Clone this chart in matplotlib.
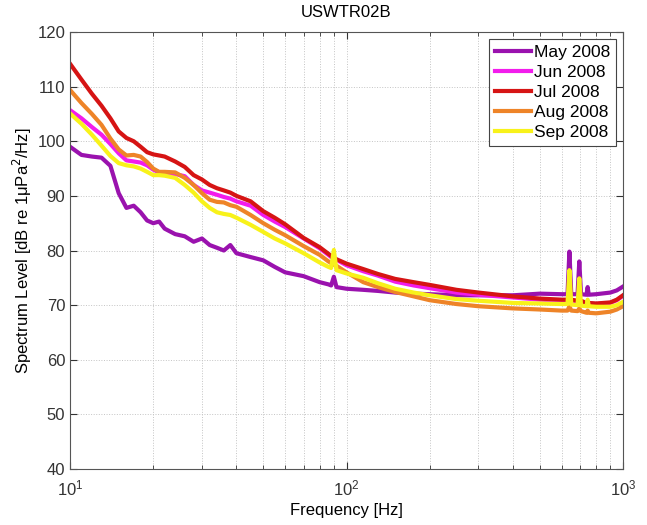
import numpy as np
import matplotlib
matplotlib.use('Agg')
import matplotlib.pyplot as plt

plt.rcParams['font.family'] = ['Liberation Sans', 'DejaVu Sans']

# frequency grid [Hz] shared by all monthly spectra
freq = [10, 11, 12, 13, 14, 15, 16, 17, 18, 19, 20, 21, 22, 24, 26, 28, 30, 32, 34, 36,
        38, 40, 45, 50, 55, 60, 70, 80, 86, 88, 90, 92, 100, 115, 130, 150, 175, 200,
        250, 300, 400, 500, 600, 630, 640, 650, 685, 695, 705, 738, 745, 752, 800, 900,
        950, 1000]

may = [99.0, 97.5, 97.2, 97.0, 95.5, 90.5, 87.8, 88.2, 87.0, 85.5, 85.0, 85.3, 84.0, 83.0,
       82.6, 81.6, 82.2, 81.0, 80.5, 80.0, 81.0, 79.5, 78.8, 78.2, 77.0, 76.0, 75.3, 74.2,
       73.8, 73.6, 75.2, 73.3, 73.0, 72.8, 72.6, 72.3, 72.1, 72.0, 71.8, 71.8, 71.8, 72.1,
       72.0, 72.0, 79.8, 72.0, 72.0, 78.0, 72.0, 71.9, 73.3, 71.9, 72.0, 72.3, 72.7, 73.4]

jun = [105.7, 104.2, 102.6, 101.2, 99.5, 97.8, 96.5, 96.3, 96.1, 95.6, 94.8, 94.3, 94.1, 94.0,
       93.6, 92.0, 91.0, 90.6, 90.2, 89.8, 89.5, 89.0, 88.2, 86.5, 85.3, 84.3, 82.2, 80.4,
       79.2, 78.8, 78.5, 78.3, 77.3, 76.2, 75.4, 74.3, 73.6, 73.1, 72.3, 71.9, 71.4, 71.0,
       70.8, 70.8, 71.0, 70.8, 70.6, 70.8, 70.6, 70.3, 70.4, 70.3, 70.2, 70.4, 70.9, 71.7]

jul = [114.2, 111.3, 108.7, 106.5, 104.2, 101.8, 100.6, 100.0, 99.0, 98.0, 97.6, 97.4, 97.2,
       96.3, 95.3, 93.8, 93.0, 92.0, 91.4, 91.0, 90.6, 90.0, 89.0, 87.2, 86.0, 84.8, 82.3,
       80.6, 79.4, 79.0, 78.6, 78.4, 77.6, 76.6, 75.7, 74.8, 74.2, 73.7, 72.8, 72.3, 71.6,
       71.2, 71.0, 71.0, 71.2, 71.0, 70.8, 71.0, 70.8, 70.4, 70.5, 70.4, 70.3, 70.5, 71.0, 71.8]

aug = [109.4, 107.0, 105.0, 103.0, 100.5, 98.5, 97.4, 97.5, 97.2, 96.2, 95.0, 94.4, 94.4,
       94.3, 93.3, 92.0, 90.5, 89.3, 88.9, 88.8, 88.3, 88.0, 86.5, 85.0, 83.8, 82.8, 80.8,
       79.2, 78.0, 77.7, 77.4, 77.2, 76.0, 74.2, 73.3, 72.4, 71.6, 70.9, 70.2, 69.8, 69.4,
       69.2, 69.0, 69.0, 69.8, 69.0, 68.9, 69.4, 68.9, 68.6, 69.0, 68.6, 68.5, 68.8, 69.2, 69.8]

sep = [105.1, 103.2, 101.2, 99.2, 97.3, 96.0, 95.6, 95.4, 95.0, 94.4, 93.8, 93.8, 93.7, 93.3,
       92.0, 90.6, 89.0, 87.8, 87.0, 86.7, 86.5, 86.0, 84.7, 83.4, 82.2, 81.3, 79.5, 77.8,
       77.0, 76.8, 80.1, 76.4, 75.8, 75.0, 74.0, 73.0, 72.3, 71.8, 71.1, 70.8, 70.4, 70.3,
       70.2, 70.2, 76.4, 70.1, 70.0, 74.9, 69.9, 69.8, 71.0, 69.8, 69.7, 69.7, 70.0, 70.6]

labels = ['May 2008', 'Jun 2008', 'Jul 2008', 'Aug 2008', 'Sep 2008']
colors = ['#9A12AE', '#F21CEC', '#D61414', '#EE8428', '#F8F21A']

fig = plt.figure(figsize=(6.47, 5.25), dpi=100)
ax = fig.add_axes([0.1082, 0.1067, 0.8547, 0.8323])

for lev, lab, c in zip([may, jun, jul, aug, sep], labels, colors):
    ax.semilogx(freq, lev, color=c, lw=3.0, label=lab)

ax.set_xlim(10, 1000)
ax.set_ylim(40, 120)
ax.set_yticks(np.arange(40, 121, 10))
ax.grid(True, which='major', ls=':', color='#c4c4c4', lw=0.7)
ax.grid(True, which='minor', axis='x', ls=':', color='#c4c4c4', lw=0.7)
ax.tick_params(which='both', direction='in', top=True, right=True, labelsize=12, colors='#333333')
ax.tick_params(which='major', length=5)
ax.tick_params(which='minor', length=3)
ax.tick_params(axis='x', which='major', pad=7)
for s in ax.spines.values():
    s.set_color('#555555')
    s.set_linewidth(0.8)

ax.set_title('USWTR02B', fontsize=12, pad=11)
ax.set_xlabel('Frequency [Hz]', fontsize=12, labelpad=3)
ax.set_ylabel('Spectrum Level [dB re 1\u03bcPa$^2$/Hz]', fontsize=12, labelpad=2)

leg = ax.legend(loc='upper right', fontsize=12.5, handlelength=2.1, handletextpad=0.15,
                labelspacing=0.28, borderpad=0.35, fancybox=False, framealpha=1,
                borderaxespad=0.4)
leg.get_frame().set_edgecolor('#444444')
leg.get_frame().set_linewidth(0.8)

fig.savefig('out.png', dpi=100)
